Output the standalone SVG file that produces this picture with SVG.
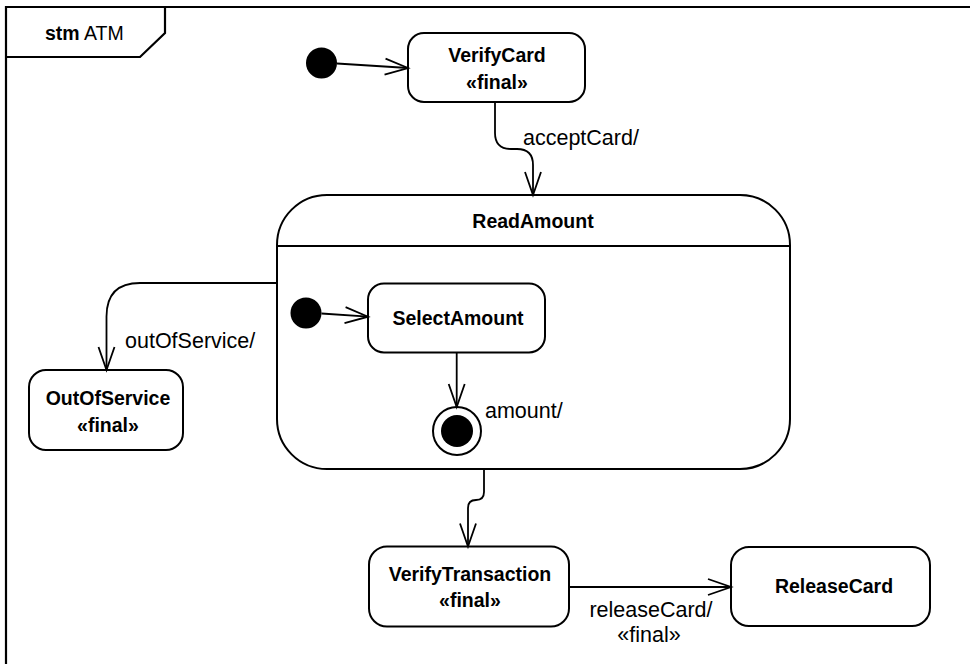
<svg xmlns="http://www.w3.org/2000/svg" width="970" height="664" viewBox="0 0 970 664">
<style>
.box{fill:#fff;stroke:#000;stroke-width:2}
.frame{fill:none;stroke:#000;stroke-width:2.2}
.edge{fill:none;stroke:#000;stroke-width:1.8}
.nm{font-family:"Liberation Sans",Arial,sans-serif;font-weight:bold;font-size:19.5px;text-anchor:middle;fill:#000}
.lbl{font-family:"Liberation Sans",Arial,sans-serif;font-size:21.5px;fill:#000}
.dot{fill:#000}
</style>
<defs>
<marker id="arr" markerUnits="userSpaceOnUse" markerWidth="30" markerHeight="20" viewBox="0 0 30 20" refX="25" refY="10" orient="auto">
<path d="M2,2 L25,10 L2,18" fill="none" stroke="#000" stroke-width="1.8"/>
</marker>
</defs>
<rect width="970" height="664" fill="#fff"/>
<g id="frame">
<path class="frame" d="M6,664 V7 H970"/>
<path class="frame" d="M6,57 H140 L165,33 V7"/>
<text x="45" y="40" font-family="Liberation Sans,Arial,sans-serif" font-size="19.5px"><tspan font-weight="bold">stm</tspan> ATM</text>
</g>
<g id="ReadAmount">
<rect class="box" x="277" y="195" width="513" height="274" rx="50"/>
<line x1="277" y1="246" x2="790" y2="246" stroke="#000" stroke-width="2"/>
<text class="nm" x="533" y="228">ReadAmount</text>
</g>
<g id="init1"><circle class="dot" cx="321.5" cy="63" r="15.5"/></g>
<g id="VerifyCard">
<rect class="box" x="408" y="33" width="177" height="69" rx="16"/>
<text class="nm" x="497" y="62">VerifyCard</text>
<text class="nm" x="497" y="89">«final»</text>
</g>
<g id="init2"><circle class="dot" cx="306" cy="313" r="15.5"/></g>
<g id="SelectAmount">
<rect class="box" x="368" y="283.5" width="177" height="69" rx="16"/>
<text class="nm" x="458" y="325">SelectAmount</text>
</g>
<g id="final">
<circle cx="457" cy="431" r="24" fill="#fff" stroke="#000" stroke-width="2"/>
<circle class="dot" cx="457" cy="431" r="16"/>
</g>
<g id="OutOfService">
<rect class="box" x="29" y="370" width="154" height="80" rx="17"/>
<text class="nm" x="108" y="405">OutOfService</text>
<text class="nm" x="108" y="432">«final»</text>
</g>
<g id="VerifyTransaction">
<rect class="box" x="369" y="546.5" width="200" height="80" rx="18"/>
<text class="nm" x="470" y="581">VerifyTransaction</text>
<text class="nm" x="470" y="607">«final»</text>
</g>
<g id="ReleaseCard">
<rect class="box" x="731" y="547" width="199" height="79" rx="18"/>
<text class="nm" x="834" y="593">ReleaseCard</text>
</g>
<g id="connectors">
<path class="edge" d="M337,63.5 L408,68" marker-end="url(#arr)"/>
<path class="edge" d="M495,102 V133 Q495,149 511,149 H517 Q533,149 533,165 V195" marker-end="url(#arr)"/>
<path class="edge" d="M277,283 H140 Q106.5,283 106.5,316.5 V370" marker-end="url(#arr)"/>
<path class="edge" d="M321.5,313.5 L368,316.7" marker-end="url(#arr)"/>
<path class="edge" d="M456.7,352.7 V407" marker-end="url(#arr)"/>
<path class="edge" d="M484,469 V492 Q484,500 476,500 Q468,500 468,508 V546.5" marker-end="url(#arr)"/>
<path class="edge" d="M569,587 H731" marker-end="url(#arr)"/>
<text class="lbl" x="523" y="145">acceptCard/</text>
<text class="lbl" x="125" y="348">outOfService/</text>
<text class="lbl" x="485" y="418">amount/</text>
<text class="lbl" x="651" y="617" text-anchor="middle">releaseCard/</text>
<text class="lbl" x="649" y="642" text-anchor="middle">«final»</text>
</g>
</svg>
